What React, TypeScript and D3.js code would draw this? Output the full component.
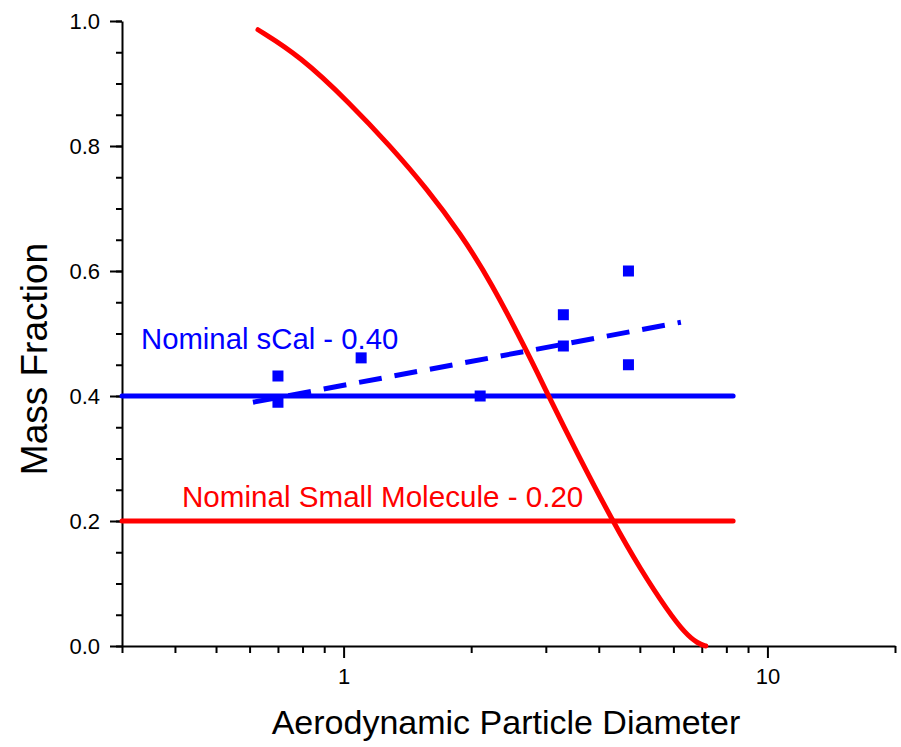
import React, { useEffect, useRef } from "react";
import * as d3 from "d3";

// fitted cumulative curve (diameter, mass fraction)
const curveX = [0.628, 0.789, 1.036, 1.288, 1.575, 1.886, 2.22, 2.716, 3.045, 3.565, 4.313, 5.023, 5.82, 6.4, 6.85, 7.155];
const curveY = [0.986, 0.944, 0.868, 0.8, 0.731, 0.66, 0.584, 0.47, 0.4, 0.307, 0.2, 0.122, 0.056, 0.02, 0.004, 0.0];

// measured sCal points
const pointX = [0.7, 0.7, 1.1, 2.1, 3.3, 3.3, 4.7, 4.7];
const pointY = [0.432, 0.39, 0.461, 0.4, 0.53, 0.48, 0.6, 0.45];

// dashed trend line end points
const trendX = [0.611, 6.25];
const trendY = [0.39, 0.518];

// nominal levels
const nominalX = [0.3, 8.3];
const nominalSCal = 0.4;
const nominalSmall = 0.2;

const xMajor = [1, 10];
const xMinor = [0.3, 0.4, 0.5, 0.6, 0.7, 0.8, 0.9, 2, 3, 4, 5, 6, 7, 8, 9, 20];
const yMajor = [0, 0.2, 0.4, 0.6, 0.8, 1.0];
const yMinor = d3.range(0, 21).map((i) => i * 0.05);

const FONT = "Arial, 'Liberation Sans', sans-serif";

const App = () => {
    const ref = useRef<SVGSVGElement>(null);

    useEffect(() => {
        const svg = d3.select(ref.current);
        svg.selectAll("*").remove();

        const x = d3.scaleLog().domain([0.3, 20]).range([122, 895]);
        const y = d3.scaleLinear().domain([0, 1]).range([646, 21]);

        // axes
        const xMinorAxis = svg
            .append("g")
            .attr("transform", "translate(0,646)")
            .call(d3.axisBottom(x).tickValues(xMinor).tickSize(7).tickSizeOuter(0).tickFormat(() => ""));
        xMinorAxis.select(".domain").attr("stroke-width", 2);
        xMinorAxis.selectAll(".tick line").attr("stroke-width", 2);

        const xMajorAxis = svg
            .append("g")
            .attr("transform", "translate(0,646)")
            .call(
                d3.axisBottom(x).tickValues(xMajor).tickSize(12).tickSizeOuter(0).tickPadding(10)
                    .tickFormat((d) => String(d))
            );
        xMajorAxis.select(".domain").remove();
        xMajorAxis.selectAll(".tick line").attr("stroke-width", 2);
        xMajorAxis.selectAll("text").attr("font-size", 22).attr("font-family", FONT).attr("fill", "#000");

        const yMinorAxis = svg
            .append("g")
            .attr("transform", "translate(122,0)")
            .call(d3.axisLeft(y).tickValues(yMinor).tickSize(6).tickSizeOuter(0).tickFormat(() => ""));
        yMinorAxis.select(".domain").attr("stroke-width", 2);
        yMinorAxis.selectAll(".tick line").attr("stroke-width", 2);

        const yMajorAxis = svg
            .append("g")
            .attr("transform", "translate(122,0)")
            .call(
                d3.axisLeft(y).tickValues(yMajor).tickSize(12).tickSizeOuter(0).tickPadding(10)
                    .tickFormat(d3.format(".1f"))
            );
        yMajorAxis.select(".domain").remove();
        yMajorAxis.selectAll(".tick line").attr("stroke-width", 2);
        yMajorAxis.selectAll("text").attr("font-size", 22).attr("font-family", FONT).attr("fill", "#000");

        // axis titles
        svg
            .append("text")
            .attr("transform", "translate(47,359) rotate(-90)")
            .attr("text-anchor", "middle")
            .attr("font-family", FONT)
            .attr("font-size", 37)
            .text("Mass Fraction");

        svg
            .append("text")
            .attr("x", 506)
            .attr("y", 734)
            .attr("text-anchor", "middle")
            .attr("font-family", FONT)
            .attr("font-size", 34)
            .text("Aerodynamic Particle Diameter");

        const line = d3
            .line<[number, number]>()
            .x((d) => x(d[0]))
            .y((d) => y(d[1]));

        // nominal lines
        svg
            .append("path")
            .datum(nominalX.map((v) => [v, nominalSmall] as [number, number]))
            .attr("fill", "none")
            .attr("stroke", "#ff0000")
            .attr("stroke-width", 5)
            .attr("stroke-linecap", "round")
            .attr("d", line);

        svg
            .append("path")
            .datum(nominalX.map((v) => [v, nominalSCal] as [number, number]))
            .attr("fill", "none")
            .attr("stroke", "#0000ff")
            .attr("stroke-width", 5)
            .attr("stroke-linecap", "round")
            .attr("d", line);

        // cumulative curve
        const smooth = d3
            .line<[number, number]>()
            .x((d) => x(d[0]))
            .y((d) => y(d[1]))
            .curve(d3.curveBasis);
        svg
            .append("path")
            .datum(curveX.map((v, i) => [v, curveY[i]] as [number, number]))
            .attr("fill", "none")
            .attr("stroke", "#ff0000")
            .attr("stroke-width", 5)
            .attr("stroke-linecap", "round")
            .attr("d", smooth);

        // dashed trend
        svg
            .append("path")
            .datum(trendX.map((v, i) => [v, trendY[i]] as [number, number]))
            .attr("fill", "none")
            .attr("stroke", "#0000ff")
            .attr("stroke-width", 5)
            .attr("stroke-dasharray", "23,13")
            .attr("d", line);

        // points
        const size = 11;
        svg
            .append("g")
            .selectAll("rect")
            .data(pointX.map((v, i) => [v, pointY[i]]))
            .join("rect")
            .attr("x", (d) => x(d[0]) - size / 2)
            .attr("y", (d) => y(d[1]) - size / 2)
            .attr("width", size)
            .attr("height", size)
            .attr("fill", "#0000ff");

        // labels
        svg
            .append("text")
            .attr("x", 141)
            .attr("y", 349)
            .attr("font-family", FONT)
            .attr("font-size", 29.3)
            .attr("fill", "#0000ff")
            .text("Nominal sCal - 0.40");

        svg
            .append("text")
            .attr("x", 182)
            .attr("y", 507)
            .attr("font-family", FONT)
            .attr("font-size", 29.6)
            .attr("fill", "#ff0000")
            .text("Nominal Small Molecule - 0.20");
    }, []);

    return (
        <svg
            ref={ref}
            width={901}
            height={747}
            style={{ position: "absolute", left: 0, top: 0, background: "#fff" }}
        />
    );
};

export default App;
